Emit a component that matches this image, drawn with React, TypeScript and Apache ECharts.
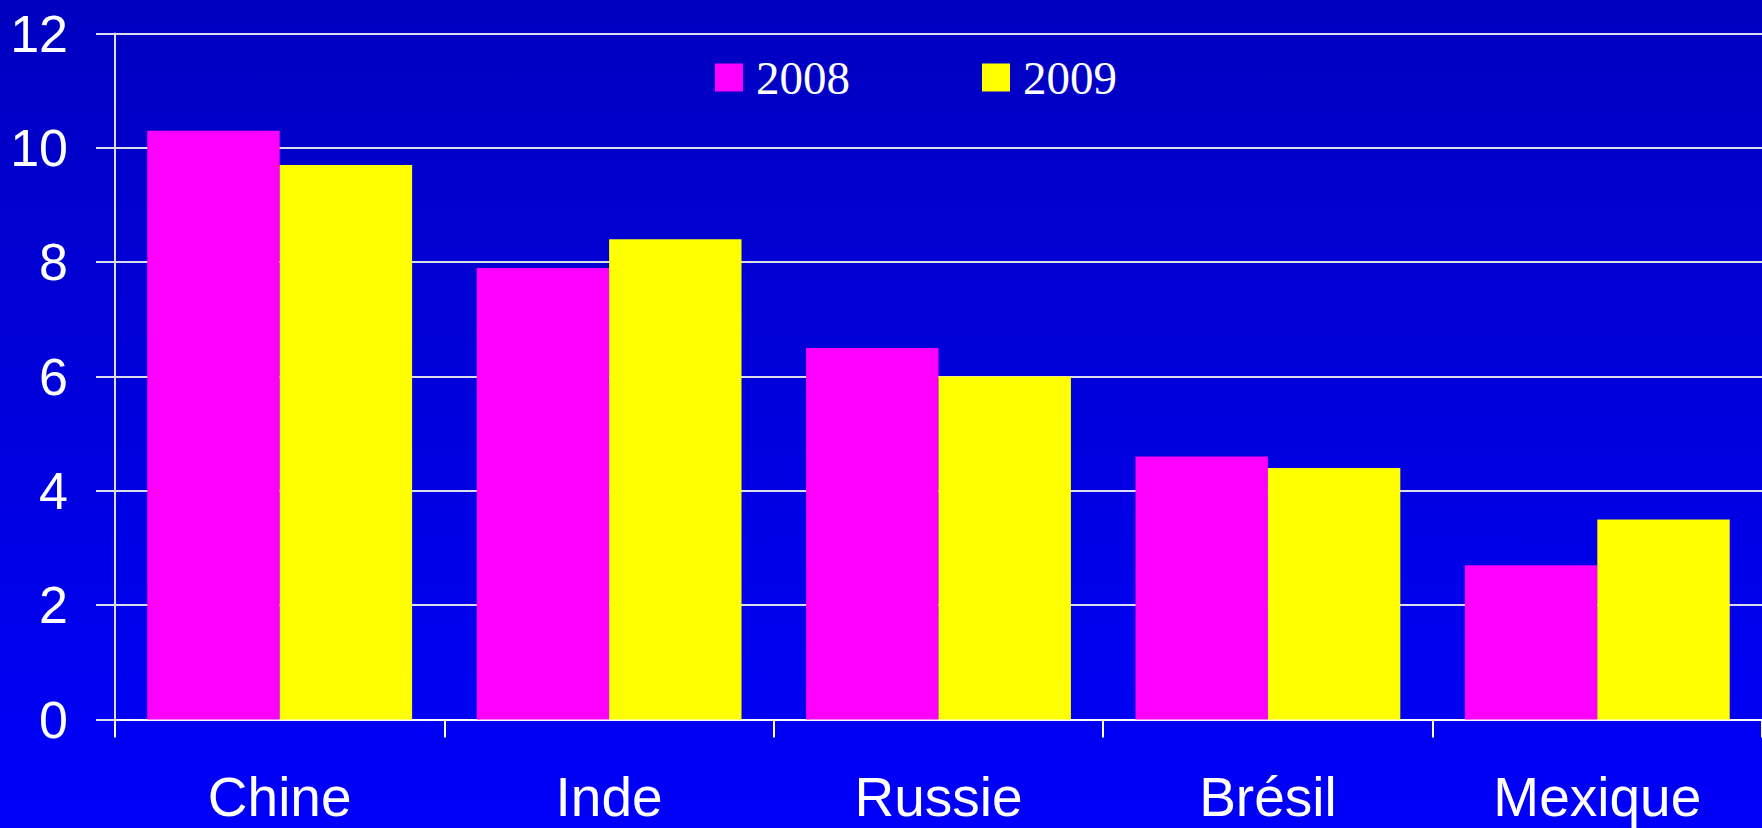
import React, { useEffect, useRef } from "react";
import * as echarts from "echarts";

const categories = ["Chine", "Inde", "Russie", "Brésil", "Mexique"];
const series2008 = [10.3, 7.9, 6.5, 4.6, 2.7];
const series2009 = [9.7, 8.4, 6.0, 4.4, 3.5];
const seriesNames = ["2008", "2009"];
const seriesColors = ["#FF00FF", "#FFFF00"];

export default function App() {
  const ref = useRef<HTMLDivElement>(null);
  useEffect(() => {
    document.body.style.margin = "0";
    const chart = echarts.init(ref.current!, null, { renderer: "svg" });
    const lineColor = "#dcdcec";
    chart.setOption({
      animation: false,
      backgroundColor: "transparent",
      legend: {
        data: seriesNames,
        left: 715,
        top: 54,
        itemWidth: 28,
        itemHeight: 28,
        itemGap: 132,
        icon: "rect",
        padding: 0,
        textStyle: {
          color: "#ffffff",
          fontFamily: "Liberation Serif",
          fontSize: 47,
          padding: [0, 0, 0, 8],
        },
      },
      grid: { left: 115, right: 0, top: 33.5, bottom: 828 - 719.5, containLabel: false },
      xAxis: {
        type: "category",
        data: categories,
        axisLine: { lineStyle: { color: "#ffffff", width: 2 } },
        axisTick: { show: true, length: 18, lineStyle: { color: "#ffffff", width: 2 } },
        axisLabel: {
          color: "#ffffff",
          fontFamily: "Liberation Sans",
          fontSize: 55,
          margin: 50,
        },
      },
      yAxis: {
        type: "value",
        min: 0,
        max: 12,
        interval: 2,
        axisLine: { show: true, lineStyle: { color: lineColor, width: 2 } },
        axisTick: { show: true, length: 19, lineStyle: { color: lineColor, width: 2 } },
        splitLine: { show: true, lineStyle: { color: lineColor, width: 2 } },
        axisLabel: {
          color: "#ffffff",
          fontFamily: "Liberation Sans",
          fontSize: 52,
          margin: 47,
        },
      },
      series: [
        {
          name: seriesNames[0],
          type: "bar",
          data: series2008,
          itemStyle: { color: seriesColors[0] },
          barGap: "0%",
          barCategoryGap: "19.6%",
        },
        {
          name: seriesNames[1],
          type: "bar",
          data: series2009,
          itemStyle: { color: seriesColors[1] },
          barGap: "0%",
          barCategoryGap: "19.6%",
        },
      ],
    });
    return () => chart.dispose();
  }, []);
  return (
    <div
      ref={ref}
      style={{
        position: "fixed",
        left: 0,
        top: 0,
        width: 1762,
        height: 828,
        background: "linear-gradient(to bottom, #0000c0 0%, #0000fa 100%)",
      }}
    />
  );
}
